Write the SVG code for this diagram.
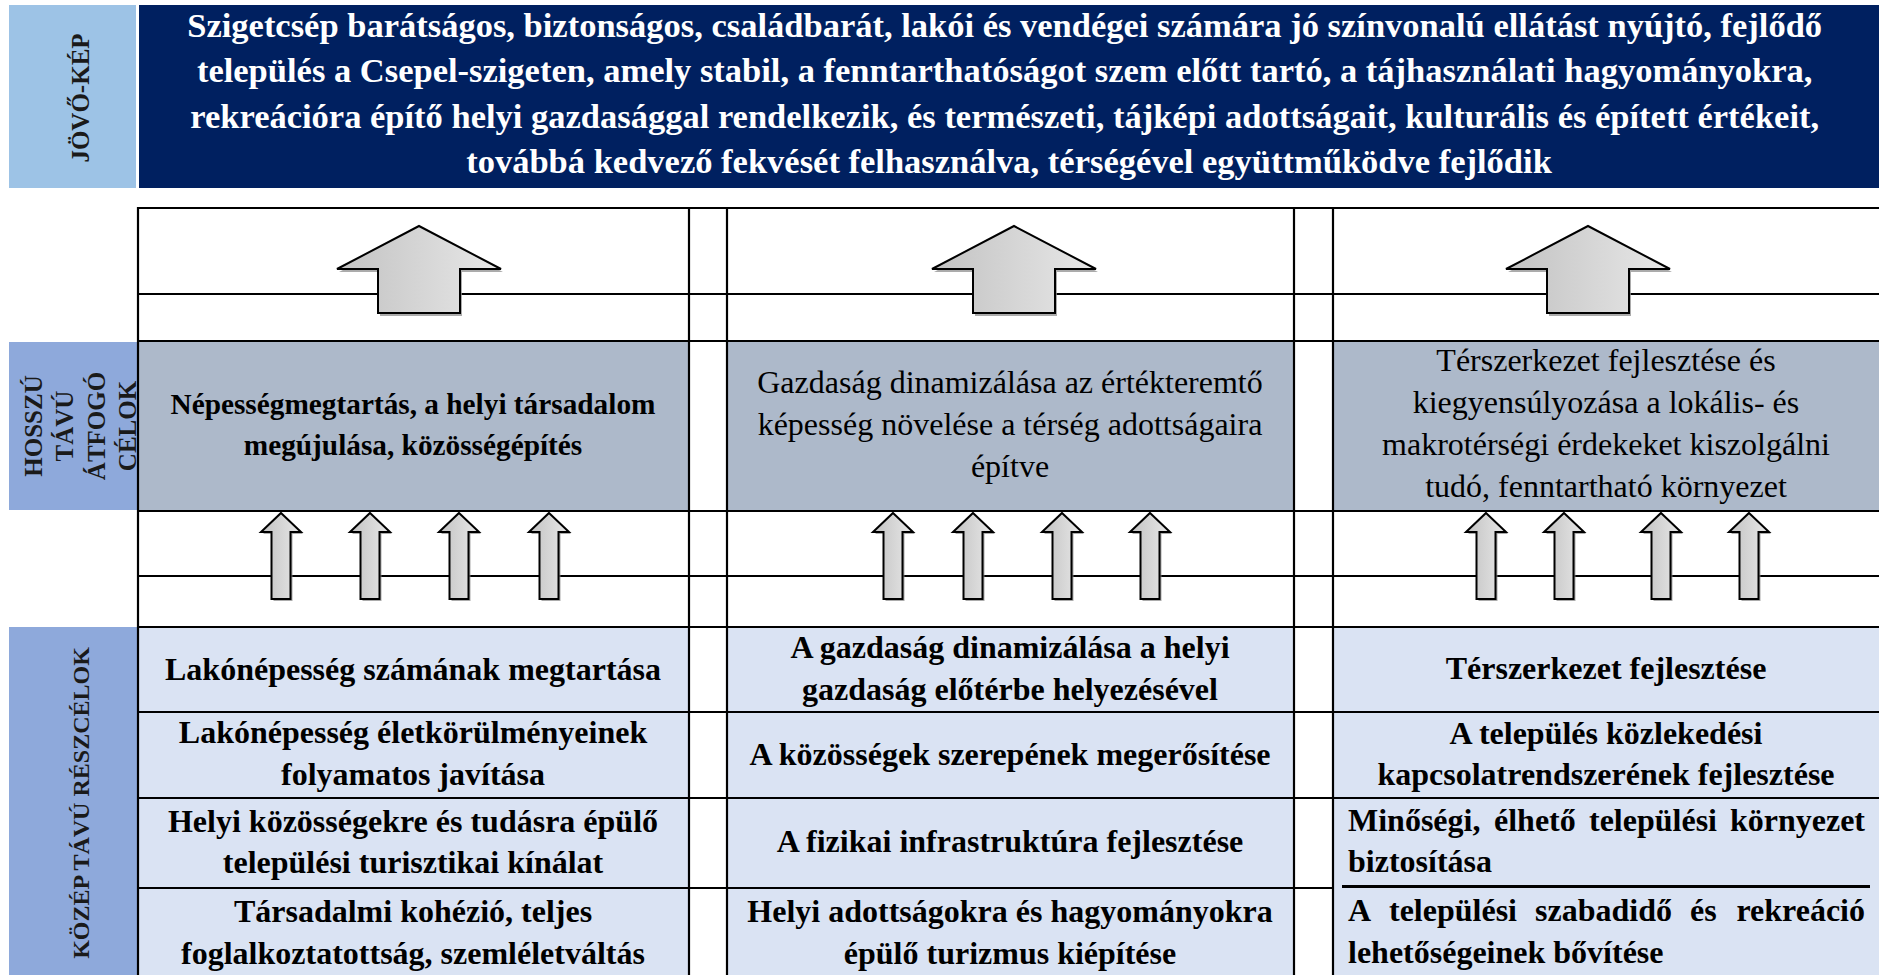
<svg xmlns="http://www.w3.org/2000/svg" xmlns:xlink="http://www.w3.org/1999/xlink" width="1879" height="975" viewBox="0 0 1879 975">
<defs>
<style>
.serif{font-family:"Liberation Serif","Times New Roman",serif;}
.top{font-size:34.5px;fill:#ffffff;font-weight:bold;text-anchor:middle;}
.lbl{font-size:25px;fill:#1a1a1a;font-weight:bold;text-anchor:middle;}
.g1{font-size:29.3px;fill:#000;font-weight:bold;text-anchor:middle;}
.g2{font-size:32px;fill:#000;text-anchor:middle;}
.r{font-size:32px;fill:#000;font-weight:bold;text-anchor:middle;}
.rj{font-size:32px;fill:#000;font-weight:bold;text-anchor:start;}
.ln{stroke:#000;stroke-width:2.2;fill:none;}
.arr{fill:url(#ag);stroke:#000;stroke-width:2;stroke-linejoin:miter;}
.sh{fill:#8f8f8f;opacity:0.75;}
</style>
<linearGradient id="ag" x1="0" y1="0" x2="1" y2="0">
<stop offset="0" stop-color="#c2c2c2"/>
<stop offset="1" stop-color="#e8e8e8"/>
</linearGradient>
<path id="big" d="M0,0 L82,43 L41,43 L41,87 L-41,87 L-41,43 L-82,43 Z"/>
<path id="small" d="M0,0 L20,19 L9.5,19 L9.5,86 L-9.5,86 L-9.5,19 L-20,19 Z"/>
</defs>
<rect width="1879" height="975" fill="#ffffff"/>

<g id="jovokep-label">
<rect x="9" y="5" width="127" height="183" fill="#9DC3E6"/>
<text class="serif lbl" transform="translate(89,98) rotate(-90)">JÖVŐ-KÉP</text>
</g>
<g id="jovokep">
<rect x="139" y="5" width="1740" height="183" fill="#002060"/>
<text class="serif top">
<tspan x="1009" y="37">Szigetcsép barátságos, biztonságos, családbarát, lakói és vendégei számára jó színvonalú ellátást nyújtó, fejlődő</tspan>
<tspan x="1009" y="82">település a Csepel-szigeten, amely stabil, a fenntarthatóságot szem előtt tartó, a tájhasználati hagyományokra,</tspan>
<tspan x="1009" y="128">rekreációra építő helyi gazdasággal rendelkezik, és természeti, tájképi adottságait, kulturális és épített értékeit,</tspan>
<tspan x="1009" y="173">továbbá kedvező fekvését felhasználva, térségével együttműködve fejlődik</tspan>
</text>
</g>

<g id="hosszu-label">
<rect x="9" y="342" width="128" height="168" fill="#8EA9DB"/>
<text class="serif lbl" transform="translate(42,426) rotate(-90)">HOSSZÚ</text>
<text class="serif lbl" transform="translate(73,426) rotate(-90)">TÁVÚ</text>
<text class="serif lbl" transform="translate(105,426) rotate(-90)">ÁTFOGÓ</text>
<text class="serif lbl" transform="translate(136,426) rotate(-90)">CÉLOK</text>
</g>

<g id="kozep-label">
<rect x="9" y="627" width="128" height="348" fill="#8EA9DB"/>
<text class="serif lbl" style="font-size:24px" transform="translate(89,803) rotate(-90)">KÖZÉP TÁVÚ RÉSZCÉLOK</text>
</g>

<g id="cell-fills">
<rect x="138" y="341" width="551" height="170" fill="#ADB9CA"/>
<rect x="727" y="341" width="567" height="170" fill="#ADB9CA"/>
<rect x="1333" y="341" width="546" height="170" fill="#ADB9CA"/>
<rect x="138" y="627" width="551" height="348" fill="#DAE3F3"/>
<rect x="727" y="627" width="567" height="348" fill="#DAE3F3"/>
<rect x="1333" y="627" width="546" height="348" fill="#DAE3F3"/>
</g>

<g id="grid">
<path class="ln" d="M138,208 H1879 M138,294 H1879 M138,341 H1879 M138,511 H1879 M138,576 H1879 M138,627 H1879 M138,712 H1879 M138,798 H1879 M138,888 H1334"/>
<path class="ln" style="stroke-width:3" d="M1342,886.5 H1870"/>
<path class="ln" d="M138,207 V975 M689,207 V975 M727,207 V975 M1294,207 V975 M1333,207 V975"/>
</g>

<g id="goal-1">
<text class="serif g1"><tspan x="413" y="414">Népességmegtartás, a helyi társadalom</tspan><tspan x="413" y="455">megújulása, közösségépítés</tspan></text>
</g>
<g id="goal-2">
<text class="serif g2"><tspan x="1010" y="393">Gazdaság dinamizálása az értékteremtő</tspan><tspan x="1010" y="435">képesség növelése a térség adottságaira</tspan><tspan x="1010" y="477">építve</tspan></text>
</g>
<g id="goal-3">
<text class="serif g2"><tspan x="1606" y="371">Térszerkezet fejlesztése és</tspan><tspan x="1606" y="413">kiegyensúlyozása a lokális- és</tspan><tspan x="1606" y="455">makrotérségi érdekeket kiszolgálni</tspan><tspan x="1606" y="497">tudó, fenntartható környezet</tspan></text>
</g>

<g id="sub-1-1"><text class="serif r"><tspan x="413" y="680">Lakónépesség számának megtartása</tspan></text></g>
<g id="sub-1-2"><text class="serif r"><tspan x="413" y="743">Lakónépesség életkörülményeinek</tspan><tspan x="413" y="785">folyamatos javítása</tspan></text></g>
<g id="sub-1-3"><text class="serif r"><tspan x="413" y="832">Helyi közösségekre és tudásra épülő</tspan><tspan x="413" y="873">települési turisztikai kínálat</tspan></text></g>
<g id="sub-1-4"><text class="serif r"><tspan x="413" y="922">Társadalmi kohézió, teljes</tspan><tspan x="413" y="964">foglalkoztatottság, szemléletváltás</tspan></text></g>

<g id="sub-2-1"><text class="serif r"><tspan x="1010" y="658">A gazdaság dinamizálása a helyi</tspan><tspan x="1010" y="700">gazdaság előtérbe helyezésével</tspan></text></g>
<g id="sub-2-2"><text class="serif r"><tspan x="1010" y="765">A közösségek szerepének megerősítése</tspan></text></g>
<g id="sub-2-3"><text class="serif r"><tspan x="1010" y="852">A fizikai infrastruktúra fejlesztése</tspan></text></g>
<g id="sub-2-4"><text class="serif r"><tspan x="1010" y="922">Helyi adottságokra és hagyományokra</tspan><tspan x="1010" y="964">épülő turizmus kiépítése</tspan></text></g>

<g id="sub-3-1"><text class="serif r"><tspan x="1606" y="679">Térszerkezet fejlesztése</tspan></text></g>
<g id="sub-3-2"><text class="serif r"><tspan x="1606" y="744">A település közlekedési</tspan><tspan x="1606" y="785">kapcsolatrendszerének fejlesztése</tspan></text></g>
<g id="sub-3-3"><text class="serif rj"><tspan x="1348" y="831">Minőségi,</tspan><tspan x="1494" y="831">élhető</tspan><tspan x="1589" y="831">települési</tspan><tspan x="1865" y="831" text-anchor="end">környezet</tspan><tspan x="1348" y="872">biztosítása</tspan></text></g>
<g id="sub-3-4"><text class="serif rj"><tspan x="1348" y="921">A</tspan><tspan x="1389" y="921">települési</tspan><tspan x="1535" y="921">szabadidő</tspan><tspan x="1690" y="921">és</tspan><tspan x="1865" y="921" text-anchor="end">rekreáció</tspan><tspan x="1348" y="963">lehetőségeinek bővítése</tspan></text></g>

<g id="connectors">
<use href="#big" class="sh" x="421" y="229"/><use href="#big" class="arr" x="419" y="226"/>
<use href="#big" class="sh" x="1016" y="229"/><use href="#big" class="arr" x="1014" y="226"/>
<use href="#big" class="sh" x="1590" y="229"/><use href="#big" class="arr" x="1588" y="226"/>
<use href="#small" class="sh" x="283" y="515"/><use href="#small" class="arr" x="281" y="513"/>
<use href="#small" class="sh" x="372" y="515"/><use href="#small" class="arr" x="370" y="513"/>
<use href="#small" class="sh" x="461" y="515"/><use href="#small" class="arr" x="459" y="513"/>
<use href="#small" class="sh" x="551" y="515"/><use href="#small" class="arr" x="549" y="513"/>
<use href="#small" class="sh" x="895" y="515"/><use href="#small" class="arr" x="893" y="513"/>
<use href="#small" class="sh" x="975" y="515"/><use href="#small" class="arr" x="973" y="513"/>
<use href="#small" class="sh" x="1064" y="515"/><use href="#small" class="arr" x="1062" y="513"/>
<use href="#small" class="sh" x="1152" y="515"/><use href="#small" class="arr" x="1150" y="513"/>
<use href="#small" class="sh" x="1488" y="515"/><use href="#small" class="arr" x="1486" y="513"/>
<use href="#small" class="sh" x="1566" y="515"/><use href="#small" class="arr" x="1564" y="513"/>
<use href="#small" class="sh" x="1663" y="515"/><use href="#small" class="arr" x="1661" y="513"/>
<use href="#small" class="sh" x="1751" y="515"/><use href="#small" class="arr" x="1749" y="513"/>
</g>
</svg>
